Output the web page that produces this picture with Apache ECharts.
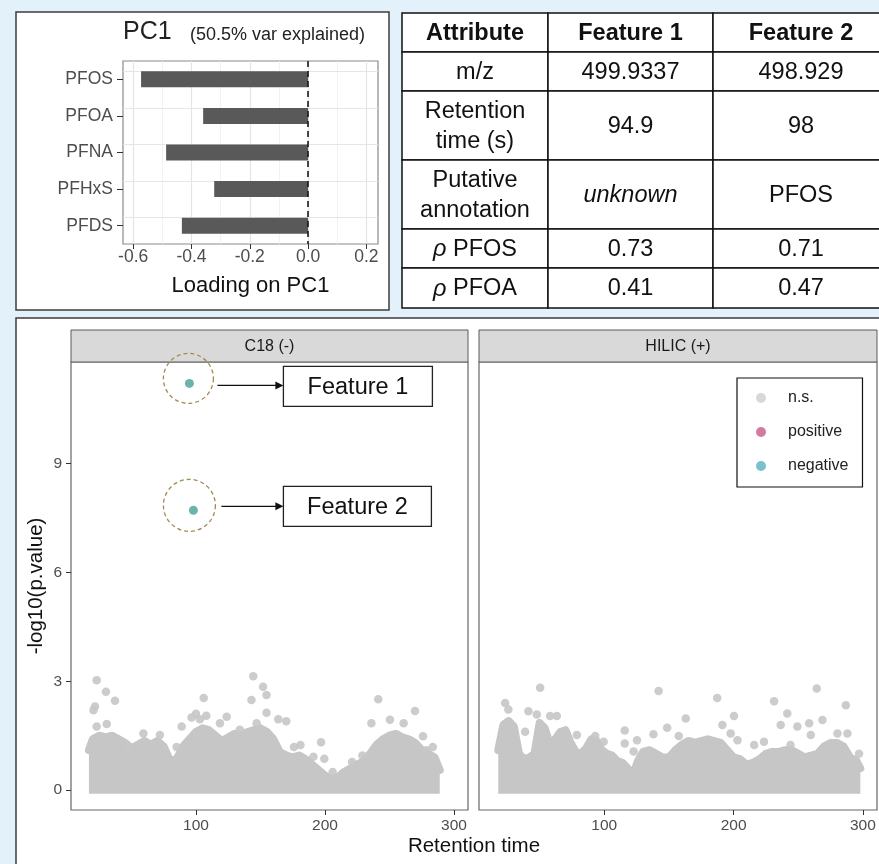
<!DOCTYPE html>
<html>
<head>
<meta charset="utf-8">
<script src="https://cdn.jsdelivr.net/npm/echarts@6/dist/echarts.min.js"></script>
<style>
html,body{margin:0;padding:0;background:#e2f1fa;}
#chart{width:879px;height:864px;}
</style>
</head>
<body>
<div id="chart"></div>
<script>
// ---------------- DATA ----------------
const pcCategories = ['PFOS', 'PFOA', 'PFNA', 'PFHxS', 'PFDS'];
const pcLoadings = [-0.573, -0.36, -0.487, -0.322, -0.433];
const pcTicks = [-0.6, -0.4, -0.2, 0, 0.2];
const pcMinorTicks = [-0.5, -0.3, -0.1, 0.1];
const pcTitle = 'PC1';
const pcSubtitle = '(50.5% var explained)';
const pcAxisTitle = 'Loading on PC1';

const tableHeader = ['Attribute', 'Feature 1', 'Feature 2'];
const tableRowLabels = ['m/z', 'Retention\ntime (s)', 'Putative\nannotation', 'ρ PFOS', 'ρ PFOA'];
const tableFeature1 = ['499.9337', '94.9', 'unknown', '0.73', '0.41'];
const tableFeature2 = ['498.929', '98', 'PFOS', '0.71', '0.47'];

const facetNames = ['C18 (-)', 'HILIC (+)'];
const rtTicks = [100, 200, 300];
const pvTicks = [0, 3, 6, 9];
const legendNames = ['n.s.', 'positive', 'negative'];

const featureNames = ['Feature 1', 'Feature 2'];
const featureRT = [94.9, 98];
const featureLogP = [11.21, 7.71];

// dense non-significant cloud: upper envelope (read by eye)
const c18BodyRT = [17,20,25,30,35,40,45,50,55,60,65,70,75,80,85,90,95,100,105,110,115,120,125,130,135,140,145,150,155,160,165,170,175,180,185,190,195,200,205,210,215,220,225,230,235,240,245,250,255,260,265,270,275,280,285,289];
const c18BodyLogP = [1.1,1.4,1.5,1.45,1.5,1.4,1.3,1.15,1.25,1.35,1.25,1.35,1.2,0.8,0.85,1.2,1.4,1.6,1.7,1.65,1.5,1.35,1.45,1.55,1.5,1.6,1.65,1.7,1.6,1.4,1.05,0.95,0.9,0.95,0.85,0.7,0.55,0.4,0.3,0.35,0.5,0.6,0.7,0.8,1.0,1.25,1.4,1.5,1.55,1.45,1.4,1.3,1.1,1.0,0.9,0.55];
const hilicBodyRT = [18,22,26,30,34,38,42,46,50,54,58,62,66,70,74,78,82,86,90,94,98,102,106,110,114,118,122,126,130,135,140,145,150,155,160,165,170,175,180,185,190,195,200,205,210,215,220,225,230,235,240,245,250,255,260,265,270,275,280,285,290,295,298];
const hilicBodyLogP = [1.1,1.8,1.9,1.75,1.0,0.85,0.9,1.0,1.85,1.7,1.25,1.4,1.6,1.65,1.3,1.05,1.0,1.15,1.4,1.35,1.1,1.0,0.95,0.8,0.75,0.6,0.4,0.8,1.05,1.1,1.0,0.9,0.9,1.1,1.25,1.35,1.3,1.35,1.4,1.35,1.3,1.1,0.9,0.85,0.7,0.75,0.85,1.0,1.05,1.05,1.1,1.1,1.0,0.9,0.95,1.0,1.2,1.3,1.3,1.2,0.9,0.8,0.6];

// individual non-significant points above the cloud
const c18NsRT = [23,30.2,37.2,21.7,20.5,30.8,23,106,144.4,143,152,154.7,154.7,96.6,100,103,108,88.9,123.8,118.6,134,163.8,170,147,176,181,191,197,199.5,206,221,229,241.3,250.4,269.8,261,236,276,283.6,278.5,59.2,72,67,47.6,85,83.6];
const c18NsLogP = [3.03,2.71,2.46,2.3,2.2,1.82,1.75,2.54,3.14,2.48,2.85,2.62,2.13,2.0,2.1,1.95,2.05,1.75,2.02,1.84,1.66,1.95,1.9,1.84,1.19,1.24,0.92,1.32,0.86,0.5,0.77,0.95,2.5,1.94,2.18,1.84,1.84,1.48,1.19,1.1,1.56,1.52,1.24,1.19,1.19,0.83];
const hilicNsRT = [50.4,142,187.3,264.3,231.3,286.8,23.3,25.8,41.3,47.8,58.1,63.3,38.8,78.8,93,99.5,115.8,115.8,125.3,122.7,138,148.6,157.6,163,166.8,191.3,200.3,197.7,203,223.5,236.4,241.5,249.3,258.4,268.7,259.7,280.3,288,297,244,215.9];
const hilicNsLogP = [2.82,2.73,2.54,2.8,2.45,2.34,2.4,2.22,2.17,2.08,2.04,2.04,1.61,1.52,1.49,1.33,1.64,1.28,1.37,1.06,1.54,1.72,1.49,1.97,1.33,1.79,2.04,1.56,1.37,1.33,1.79,2.11,1.75,1.84,1.93,1.52,1.56,1.56,1.0,1.24,1.24];

// ---------------- STYLE / LAYOUT ----------------
const FONT = '"Liberation Sans", Arial, Helvetica, sans-serif';
const GREY_PT = '#c6c6c6';
const zip = (a, b) => a.map((v, i) => [v, b[i]]);

const chart = echarts.init(document.getElementById('chart'), null, {renderer: 'canvas', width: 879, height: 864});

// table geometry
const colEdges = [402, 548, 713, 889];
const rowEdges = [13, 52, 91, 160, 229, 268, 308];
const TFS = 23.5;

const graphics = [];
graphics.push({type: 'rect', id: 'pcbox', z: -10, shape: {x: 16, y: 12, width: 373, height: 298},
  style: {fill: '#fff', stroke: '#3c3c3c', lineWidth: 1.5}});
graphics.push({type: 'rect', id: 'bigbox', z: -10, shape: {x: 16, y: 318, width: 890, height: 570},
  style: {fill: '#fff', stroke: '#3c3c3c', lineWidth: 1.5}});

const tableCells = [tableHeader].concat(tableRowLabels.map((l, i) => [l, tableFeature1[i], tableFeature2[i]]));
tableCells.forEach((row, r) => {
  row.forEach((txt, c) => {
    const x0 = colEdges[c], x1 = colEdges[c + 1], y0 = rowEdges[r], y1 = rowEdges[r + 1];
    graphics.push({type: 'rect', id: 'cell' + r + '_' + c, z: -5,
      shape: {x: x0, y: y0, width: x1 - x0, height: y1 - y0},
      style: {fill: '#fff', stroke: '#111', lineWidth: 1.5}});
    const isRho = txt.indexOf('ρ') === 0;
    const st = {
      x: (x0 + x1) / 2, y: (y0 + y1) / 2 + 1,
      text: isRho ? '{i|ρ}' + txt.slice(1) : txt,
      fill: '#111', fontFamily: FONT, fontSize: TFS,
      fontWeight: r === 0 ? 'bold' : 'normal',
      fontStyle: txt === 'unknown' ? 'italic' : 'normal',
      align: 'center', verticalAlign: 'middle', lineHeight: 30
    };
    if (isRho) st.rich = {i: {fontStyle: 'italic', fontFamily: FONT, fontSize: TFS, fill: '#111'}};
    graphics.push({type: 'text', id: 'ct' + r + '_' + c, z: 5, style: st});
  });
});

const stripRects = [[71, 397], [479, 398]];
facetNames.forEach((n, i) => {
  graphics.push({type: 'rect', id: 'strip' + i, z: 5, shape: {x: stripRects[i][0], y: 330, width: stripRects[i][1], height: 32},
    style: {fill: '#d9d9d9', stroke: '#5a5a5a', lineWidth: 1}});
  graphics.push({type: 'text', id: 'stript' + i, z: 6, style: {x: stripRects[i][0] + stripRects[i][1] / 2, y: 347,
    text: n, fill: '#1a1a1a', fontFamily: FONT, fontSize: 16, align: 'center', verticalAlign: 'middle'}});
});
graphics.push({type: 'text', id: 'xtitle', z: 6, style: {x: 474, y: 846, text: 'Retention time', fill: '#111',
  fontFamily: FONT, fontSize: 20.5, align: 'center', verticalAlign: 'middle'}});

const axisLabelCommon = {fontFamily: FONT, color: '#4d4d4d'};
const hiddenLine = {show: false, onZero: false};

const option = {
  backgroundColor: '#e2f1fa',
  animation: false,
  textStyle: {fontFamily: FONT},
  title: [
    {text: pcTitle, left: 123, top: 20, padding: 0, textStyle: {fontFamily: FONT, fontSize: 25, fontWeight: 'normal', color: '#222'}},
    {text: pcSubtitle, left: 190, top: 26, padding: 0, textStyle: {fontFamily: FONT, fontSize: 18, fontWeight: 'normal', color: '#222'}}
  ],
  legend: {
    orient: 'vertical', left: 737, top: 378,
    padding: [12, 14, 13, 19],
    itemWidth: 10, itemHeight: 16, itemGap: 18,
    backgroundColor: '#fff', borderColor: '#111', borderWidth: 1.2,
    textStyle: {fontFamily: FONT, fontSize: 16, color: '#222', padding: [0, 0, 0, 17]},
    data: [
      {name: legendNames[0], icon: 'circle', itemStyle: {color: '#d4d4d4'}},
      {name: legendNames[1], icon: 'circle', itemStyle: {color: '#c9578a'}},
      {name: legendNames[2], icon: 'circle', itemStyle: {color: '#57b2c4'}}
    ]
  },
  grid: [
    {left: 123, top: 61, width: 255, height: 183, show: true, backgroundColor: '#fff', borderColor: '#8a8a8a', borderWidth: 1.2},
    {left: 71, top: 362, width: 397, height: 448, show: true, backgroundColor: '#fff', borderColor: '#666', borderWidth: 1.2},
    {left: 479, top: 362, width: 398, height: 448, show: true, backgroundColor: '#fff', borderColor: '#666', borderWidth: 1.2}
  ],
  xAxis: [
    {type: 'value', gridIndex: 0, min: -0.635, max: 0.24,
      axisLine: hiddenLine, splitLine: {show: false},
      axisTick: {show: true, customValues: pcTicks, length: 5, lineStyle: {color: '#333'}},
      axisLabel: Object.assign({customValues: pcTicks, fontSize: 17.5, margin: 4,
        formatter: v => v.toFixed(1)}, axisLabelCommon),
      name: pcAxisTitle, nameLocation: 'middle', nameGap: 31,
      nameTextStyle: {fontFamily: FONT, fontSize: 22, color: '#111'}},
    {type: 'value', gridIndex: 1, min: 3.1, max: 310.9,
      axisLine: hiddenLine, splitLine: {show: false},
      axisTick: {show: true, customValues: rtTicks, length: 5, lineStyle: {color: '#333'}},
      axisLabel: Object.assign({customValues: rtTicks, fontSize: 15.5, margin: 8}, axisLabelCommon)},
    {type: 'value', gridIndex: 2, min: 3.1, max: 310.9,
      axisLine: hiddenLine, splitLine: {show: false},
      axisTick: {show: true, customValues: rtTicks, length: 5, lineStyle: {color: '#333'}},
      axisLabel: Object.assign({customValues: rtTicks, fontSize: 15.5, margin: 8}, axisLabelCommon)}
  ],
  yAxis: [
    {type: 'category', gridIndex: 0, data: pcCategories, inverse: true,
      axisLine: hiddenLine, splitLine: {show: false},
      axisTick: {show: true, alignWithLabel: true, length: 6, lineStyle: {color: '#333'}},
      axisLabel: Object.assign({fontSize: 17.5, margin: 10}, axisLabelCommon)},
    {type: 'value', gridIndex: 1, min: -0.55, max: 11.8,
      axisLine: hiddenLine, splitLine: {show: false},
      axisTick: {show: true, customValues: pvTicks, length: 5, lineStyle: {color: '#333'}},
      axisLabel: Object.assign({customValues: pvTicks, fontSize: 15.5, margin: 9}, axisLabelCommon),
      name: '-log10(p.value)', nameLocation: 'middle', nameGap: 24, nameRotate: 90,
      nameTextStyle: {fontFamily: FONT, fontSize: 20.5, color: '#111'}},
    {type: 'value', gridIndex: 2, min: -0.55, max: 11.8,
      axisLine: hiddenLine, splitLine: {show: false},
      axisTick: {show: false}, axisLabel: {show: false}}
  ],
  series: [
    {type: 'bar', name: 'pcgrid', xAxisIndex: 0, yAxisIndex: 0, data: [], z: 1, silent: true,
      markLine: {silent: true, symbol: 'none', label: {show: false}, animation: false, z: 1,
        data: pcTicks.map(v => ({xAxis: v, lineStyle: {color: '#e4e4e4', width: 1.2, type: 'solid'}}))
          .concat(pcMinorTicks.map(v => ({xAxis: v, lineStyle: {color: '#efefef', width: 0.8, type: 'solid'}})))
          .concat(pcCategories.map(c => ({yAxis: c, lineStyle: {color: '#e6e6e6', width: 1.2, type: 'solid'}})))}},
    {type: 'bar', name: 'PC1 loading', xAxisIndex: 0, yAxisIndex: 0, data: pcLoadings, z: 3,
      barWidth: 16, itemStyle: {color: '#595959'},
      markLine: {silent: true, symbol: 'none', label: {show: false}, animation: false, z: 5,
        lineStyle: {color: '#1a1a1a', width: 1.6, type: [6, 4]}, data: [{xAxis: 0}]}},
    {type: 'line', name: 'C18 cloud', xAxisIndex: 1, yAxisIndex: 1, data: zip(c18BodyRT, c18BodyLogP),
      symbol: 'none', silent: true, z: 2,
      lineStyle: {color: GREY_PT, width: 8, join: 'round', cap: 'round'},
      areaStyle: {color: GREY_PT, opacity: 1, origin: -0.1}},
    {type: 'scatter', name: 'n.s.', xAxisIndex: 1, yAxisIndex: 1, data: zip(c18NsRT, c18NsLogP),
      symbolSize: 8.5, z: 3, itemStyle: {color: GREY_PT, opacity: 0.9}},
    {type: 'line', name: 'HILIC cloud', xAxisIndex: 2, yAxisIndex: 2, data: zip(hilicBodyRT, hilicBodyLogP),
      symbol: 'none', silent: true, z: 2,
      lineStyle: {color: GREY_PT, width: 8, join: 'round', cap: 'round'},
      areaStyle: {color: GREY_PT, opacity: 1, origin: -0.1}},
    {type: 'scatter', name: 'n.s.', xAxisIndex: 2, yAxisIndex: 2, data: zip(hilicNsRT, hilicNsLogP),
      symbolSize: 8.5, z: 3, itemStyle: {color: GREY_PT, opacity: 0.9}},
    {type: 'scatter', name: 'positive', xAxisIndex: 1, yAxisIndex: 1, data: [], symbolSize: 9,
      itemStyle: {color: '#c9578a'}},
    {type: 'scatter', name: 'negative', xAxisIndex: 1, yAxisIndex: 1, data: zip(featureRT, featureLogP),
      symbolSize: 9, z: 4, itemStyle: {color: '#46a096'}}
  ],
  graphic: {elements: graphics}
};

chart.setOption(option);

const annotLayout = [
  {cdx: -1, cdy: -5, r: 25, arrowDy: 2, boxDx: 94, boxDy: -17, w: 149, h: 40},
  {cdx: -4, cdy: -5, r: 26, arrowDy: -4, boxDx: 90, boxDy: -24, w: 148, h: 40}
];
featureNames.forEach((name, i) => {
  const p = chart.convertToPixel({xAxisIndex: 1, yAxisIndex: 1}, [featureRT[i], featureLogP[i]]);
  const L = annotLayout[i];
  graphics.push({type: 'circle', id: 'ring' + i, z: 20,
    shape: {cx: p[0] + L.cdx, cy: p[1] + L.cdy, r: L.r},
    style: {fill: 'none', stroke: '#a38b4f', lineWidth: 1.3, lineDash: [4, 3]}});
  const ay = p[1] + L.arrowDy;
  const ax0 = p[0] + 28, ax1 = p[0] + L.boxDx;
  graphics.push({type: 'line', id: 'arrow' + i, z: 20, shape: {x1: ax0, y1: ay, x2: ax1 - 6, y2: ay},
    style: {stroke: '#111', lineWidth: 1.3}});
  graphics.push({type: 'polygon', id: 'head' + i, z: 20,
    shape: {points: [[ax1, ay], [ax1 - 8, ay - 4], [ax1 - 8, ay + 4]]}, style: {fill: '#111'}});
  graphics.push({type: 'rect', id: 'fbox' + i, z: 20,
    shape: {x: ax1, y: p[1] + L.boxDy, width: L.w, height: L.h},
    style: {fill: '#fff', stroke: '#222', lineWidth: 1.3}});
  graphics.push({type: 'text', id: 'ftxt' + i, z: 21,
    style: {x: ax1 + L.w / 2, y: p[1] + L.boxDy + L.h / 2 + 1, text: name, fill: '#111',
      fontFamily: FONT, fontSize: 23.5, align: 'center', verticalAlign: 'middle'}});
});
chart.setOption({graphic: {elements: graphics}});
</script>
</body>
</html>
